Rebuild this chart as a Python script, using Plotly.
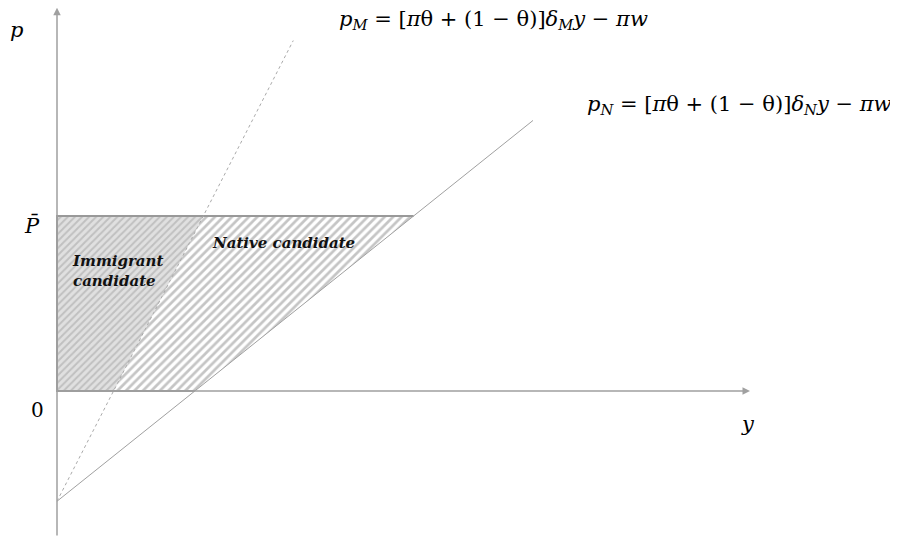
"""
Schéma : zones de vote candidat immigré / natif
"""

import plotly.graph_objects as go

# Paramètres du schéma (unités arbitraires)
intercept = -0.63          # -πw
slope_m = 1.95             # [πθ + (1-θ)]δ_M
slope_n = 0.80             # [πθ + (1-θ)]δ_N
p_bar = 1.0                # plafond P̄
line_m_end = 1.35          # extrémité de la droite p_M
line_n_end = 2.72          # extrémité de la droite p_N
axis_x_end = 3.96
axis_y_top = 2.19
axis_y_bottom = -0.834

# Intersections
x_m0 = -intercept / slope_m
x_n0 = -intercept / slope_n
x_mp = (p_bar - intercept) / slope_m
x_np = (p_bar - intercept) / slope_n

SERIF = "DejaVu Serif"
AXIS_GREY = "#a0a0a0"
SCALE = 175      # pixels par unité
X0_PX, Y0_PX = 49, 383   # position de l'origine dans la figure (marge du body comprise)

fig = go.Figure()

# Zone candidat natif (hachures sur fond blanc)
fig.add_trace(go.Scatter(
    x=[x_m0, x_n0, x_np, x_mp, x_m0],
    y=[0, 0, p_bar, p_bar, 0],
    mode='lines',
    line=dict(width=0),
    fill='toself',
    fillcolor='white',
    fillpattern=dict(shape='/', size=6, solidity=0.45, fgcolor='#8c8c8c', bgcolor='white'),
    hoverinfo='skip'
))

# Zone candidat immigré (hachures sur fond gris)
fig.add_trace(go.Scatter(
    x=[0, x_m0, x_mp, 0, 0],
    y=[0, 0, p_bar, p_bar, 0],
    mode='lines',
    line=dict(width=0),
    fill='toself',
    fillcolor='#dcdcdc',
    fillpattern=dict(shape='/', size=5, solidity=0.4, fgcolor='#a0a0a0', bgcolor='#e0e0e0'),
    hoverinfo='skip'
))

# Contour de la zone
fig.add_trace(go.Scatter(
    x=[x_np, 0, 0, x_n0],
    y=[p_bar, p_bar, 0, 0],
    mode='lines',
    line=dict(color='#999999', width=2),
    hoverinfo='skip'
))

# Droite p_N
fig.add_trace(go.Scatter(
    x=[0, line_n_end],
    y=[intercept, intercept + slope_n * line_n_end],
    mode='lines',
    line=dict(color='#a0a0a0', width=1),
    hoverinfo='skip'
))

# Droite p_M (pointillés)
fig.add_trace(go.Scatter(
    x=[0, line_m_end],
    y=[intercept, intercept + slope_m * line_m_end],
    mode='lines',
    line=dict(color='#aaaaaa', width=1, dash='dot'),
    hoverinfo='skip'
))

# Axes avec flèches
fig.add_annotation(x=axis_x_end, y=0, ax=0, ay=0, xref='x', yref='y',
                   axref='x', ayref='y', showarrow=True, arrowhead=2,
                   arrowsize=1, arrowwidth=1.5, arrowcolor=AXIS_GREY, text='')
fig.add_annotation(x=0, y=axis_y_top, ax=0, ay=axis_y_bottom, xref='x', yref='y',
                   axref='x', ayref='y', showarrow=True, arrowhead=2,
                   arrowsize=1, arrowwidth=1.5, arrowcolor=AXIS_GREY, text='')

# Libellés
labels = [
    (-0.229, 2.063, '<i>p</i>', 21, 'center'),
    (-0.143, 0.943, '<i>P̄</i>', 21, 'center'),
    (-0.114, -0.109, '0', 20, 'center'),
    (3.949, -0.189, '<i>y</i>', 21, 'center'),
    (1.6, 2.12, '<i>p</i><sub><i>M</i></sub> = [<i>π</i>θ + (1 − θ)]<i>δ</i><sub><i>M</i></sub><i>y</i> − <i>πw</i>', 21, 'left'),
    (3.017, 1.634, '<i>p</i><sub><i>N</i></sub> = [<i>π</i>θ + (1 − θ)]<i>δ</i><sub><i>N</i></sub><i>y</i> − <i>πw</i>', 21, 'left'),
]
for x, y, txt, size, anchor in labels:
    fig.add_annotation(x=x, y=y, xref='x', yref='y', text=txt, showarrow=False,
                       xanchor=anchor, yanchor='middle',
                       font=dict(family=SERIF, size=size, color='black'))

fig.add_annotation(x=0.074, y=0.683, xref='x', yref='y',
                   text='<b><i>Immigrant<br>candidate</i></b>', showarrow=False,
                   xanchor='left', yanchor='middle', align='left',
                   font=dict(family=SERIF, size=15, color='#111111'))
fig.add_annotation(x=0.874, y=0.846, xref='x', yref='y',
                   text='<b><i>Native candidate</i></b>', showarrow=False,
                   xanchor='left', yanchor='middle', align='left',
                   font=dict(family=SERIF, size=15, color='#111111'))

fig.update_layout(
    width=898, height=540,
    margin=dict(l=0, r=0, t=0, b=0),
    paper_bgcolor='white',
    plot_bgcolor='white',
    showlegend=False,
    xaxis=dict(range=[-X0_PX / SCALE, (898 - X0_PX) / SCALE], visible=False, fixedrange=True),
    yaxis=dict(range=[-(540 - Y0_PX) / SCALE, Y0_PX / SCALE], visible=False, fixedrange=True),
)

fig.write_html("out.html")
